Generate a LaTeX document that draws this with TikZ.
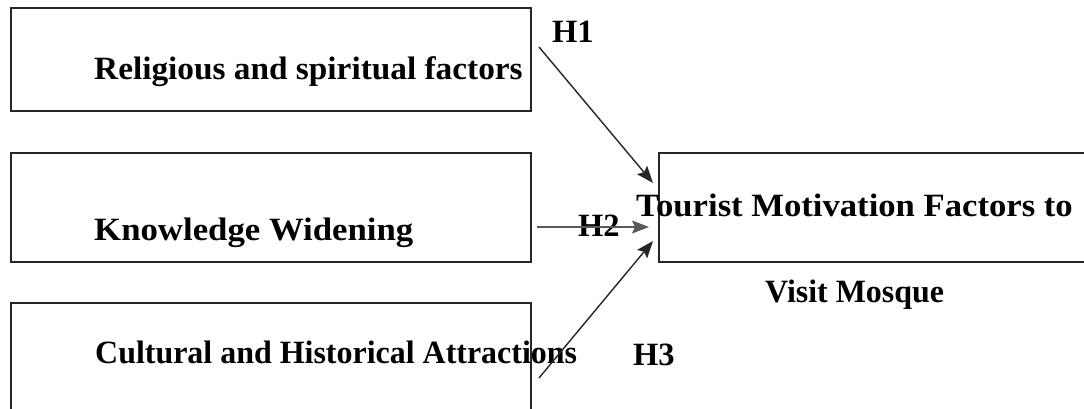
\documentclass[tikz,border=0pt]{standalone}
\usepackage{fontspec}
\setmainfont{Liberation Serif}
\usetikzlibrary{arrows.meta}
\begin{document}
\begin{tikzpicture}[x=1pt,y=-1pt,
  box/.style={draw=black!85,line width=1.4pt},
  lbl/.style={anchor=base west,inner sep=0pt,font=\fontsize{32.5}{40}\selectfont\bfseries},
  arr/.style={draw=black!85,line width=1.4pt,-{Stealth[length=17pt,width=13pt,inset=3pt]}}]
\useasboundingbox (0,0) rectangle (1084,409);
\fill[white] (0,0) rectangle (1084,409);
% boxes
\draw[box] (11,8) rectangle (531,111);
\draw[box] (11,153) rectangle (531,262);
\draw[box] (11,303) rectangle (531,440);
\draw[box] (659,153) rectangle (1110,262);
% texts
\node[lbl] (t1) at (94,80) {\scalebox{1.025}[1]{Religious and spiritual factors}};
\node[lbl] (t2) at (94,240) {\scalebox{1.07}[1]{Knowledge Widening}};
\node[lbl] (t3) at (95,363) {\scalebox{0.983}[1]{Cultural and Historical Attractions}};
\node[lbl] (t4) at (636,216) {\scalebox{1.066}[1]{Tourist Motivation Factors to}};
\node[lbl] (t5) at (765,302) {\scalebox{0.982}[1]{Visit Mosque}};
\node[lbl] (h1) at (552,43) {H1};
\node[lbl] (h2) at (578,236) {H2};
\node[lbl] (h3) at (633,365) {H3};
% arrow end points
\coordinate (s1) at (539,47);
\coordinate (e1) at (653,183);
\coordinate (s2) at (537,227);
\coordinate (e2) at (649,227);
\coordinate (s3) at (539,378);
\coordinate (e3) at (653,241);
\draw[arr] (s1) -- (e1);
\draw[arr,draw=black!65] (s2) -- (e2);
\draw[arr] (s3) -- (e3);
\end{tikzpicture}
\end{document}
